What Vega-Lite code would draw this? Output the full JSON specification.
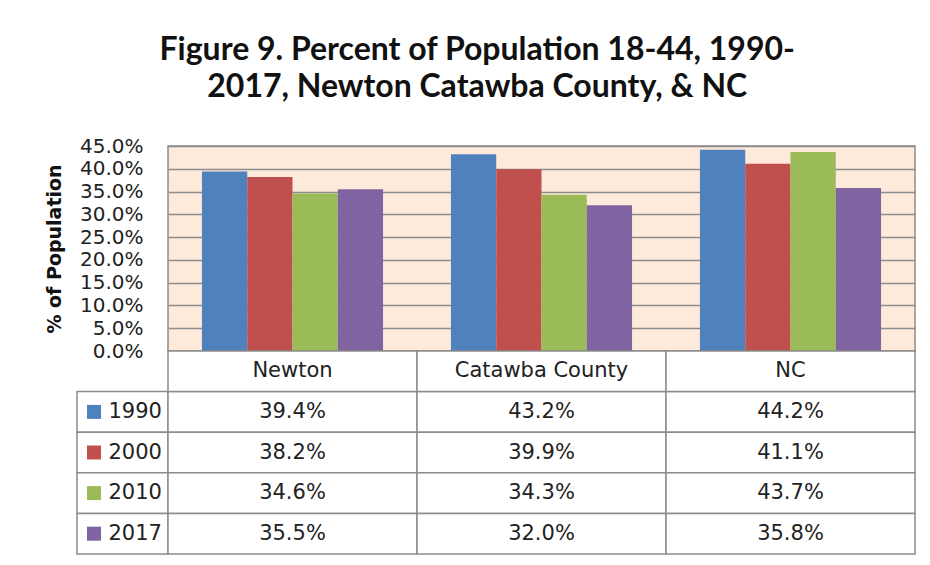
{
  "$schema": "https://vega.github.io/schema/vega-lite/v6.json",
  "background": "white",
  "padding": {"left": 44, "top": 34, "right": 5, "bottom": 5},
  "title": {
    "text": ["Figure 9. Percent of Population 18-44, 1990-", "2017, Newton Catawba County, & NC"],
    "font": "Lato",
    "fontSize": 32,
    "fontWeight": "bold",
    "color": "#111111",
    "anchor": "middle",
    "lineHeight": 37,
    "offset": 31,
    "dx": -3
  },
  "data": {
    "values": [
      {"county": "Newton", "year": "1990", "value": 0.394},
      {"county": "Newton", "year": "2000", "value": 0.382},
      {"county": "Newton", "year": "2010", "value": 0.346},
      {"county": "Newton", "year": "2017", "value": 0.355},
      {"county": "Catawba County", "year": "1990", "value": 0.432},
      {"county": "Catawba County", "year": "2000", "value": 0.399},
      {"county": "Catawba County", "year": "2010", "value": 0.343},
      {"county": "Catawba County", "year": "2017", "value": 0.320},
      {"county": "NC", "year": "1990", "value": 0.442},
      {"county": "NC", "year": "2000", "value": 0.411},
      {"county": "NC", "year": "2010", "value": 0.437},
      {"county": "NC", "year": "2017", "value": 0.358}
    ]
  },
  "columns": 2,
  "spacing": 0,
  "bounds": "flush",
  "concat": [
    {
      "width": 91,
      "height": 205,
      "data": {"values": [{"blank": ""}]},
      "mark": {"type": "text", "opacity": 0},
      "encoding": {"text": {"field": "blank"}},
      "view": {"stroke": null}
    },
    {
      "width": 747,
      "height": 205,
      "view": {"fill": "#FDEADA", "stroke": "#8c8c8c", "strokeWidth": 1.5},
      "mark": {"type": "bar"},
      "encoding": {
        "x": {
          "field": "county", "type": "nominal",
          "sort": ["Newton", "Catawba County", "NC"],
          "scale": {"paddingInner": 0, "paddingOuter": 0},
          "axis": null
        },
        "xOffset": {
          "field": "year", "type": "nominal",
          "sort": ["1990", "2000", "2010", "2017"],
          "scale": {"paddingInner": 0, "paddingOuter": 0.75}
        },
        "y": {
          "field": "value", "type": "quantitative",
          "scale": {"domain": [0, 0.45], "nice": false},
          "axis": {
            "format": ".1%",
            "values": [0, 0.05, 0.1, 0.15, 0.2, 0.25, 0.3, 0.35, 0.4, 0.45],
            "title": "% of Population",
            "titleFont": "DejaVu Sans",
            "titleFontSize": 19,
            "titleFontWeight": "bold",
            "titleColor": "#111111",
            "titlePadding": 15,
            "labelFont": "DejaVu Sans",
            "labelFontSize": 20,
            "labelColor": "#222222",
            "labelPadding": 25,
            "ticks": false,
            "domain": false,
            "grid": true,
            "gridColor": "#8c8c8c",
            "gridWidth": 1.5
          }
        },
        "color": {
          "field": "year", "type": "nominal",
          "scale": {"domain": ["1990", "2000", "2010", "2017"], "range": ["#4F81BD", "#C0504D", "#9BBB59", "#8064A2"]},
          "legend": null
        }
      }
    },
    {
      "width": 91,
      "height": 203,
      "view": {"stroke": null},
      "transform": [{"aggregate": [{"op": "count", "as": "n"}], "groupby": ["year"]}],
      "encoding": {
        "y": {
          "field": "year", "type": "nominal",
          "scale": {"domain": ["header", "1990", "2000", "2010", "2017"], "paddingInner": 0, "paddingOuter": 0},
          "axis": null
        }
      },
      "layer": [
        {"mark": {"type": "rect", "fill": "white", "stroke": "#8c8c8c", "strokeWidth": 1.5}},
        {
          "mark": {"type": "point", "shape": "square", "filled": true, "size": 196, "opacity": 1, "xOffset": -28.5},
          "encoding": {
            "color": {
              "field": "year", "type": "nominal",
              "scale": {"domain": ["1990", "2000", "2010", "2017"], "range": ["#4F81BD", "#C0504D", "#9BBB59", "#8064A2"]},
              "legend": null
            }
          }
        },
        {
          "mark": {"type": "text", "align": "left", "dx": -14, "font": "DejaVu Sans", "fontSize": 21, "color": "#222222"},
          "encoding": {"text": {"field": "year"}}
        }
      ]
    },
    {
      "width": 747,
      "height": 203,
      "view": {"stroke": null},
      "encoding": {
        "x": {
          "field": "county", "type": "nominal",
          "sort": ["Newton", "Catawba County", "NC"],
          "scale": {"paddingInner": 0, "paddingOuter": 0},
          "axis": null
        }
      },
      "layer": [
        {
          "mark": {"type": "rect", "fill": "white", "stroke": "#8c8c8c", "strokeWidth": 1.5},
          "encoding": {
            "y": {
              "field": "year", "type": "nominal",
              "scale": {"domain": ["header", "1990", "2000", "2010", "2017"], "paddingInner": 0, "paddingOuter": 0},
              "axis": null
            }
          }
        },
        {
          "transform": [{"aggregate": [{"op": "count", "as": "n"}], "groupby": ["county"]}],
          "mark": {"type": "rect", "fill": "white", "stroke": "#8c8c8c", "strokeWidth": 1.5},
          "encoding": {"y": {"datum": "header", "type": "nominal"}}
        },
        {
          "mark": {"type": "text", "font": "DejaVu Sans", "fontSize": 21, "color": "#222222"},
          "encoding": {
            "y": {"field": "year", "type": "nominal"},
            "text": {"field": "value", "type": "quantitative", "format": ".1%"}
          }
        },
        {
          "transform": [{"aggregate": [{"op": "count", "as": "n"}], "groupby": ["county"]}],
          "mark": {"type": "text", "font": "DejaVu Sans", "fontSize": 21, "color": "#222222"},
          "encoding": {
            "y": {"datum": "header", "type": "nominal"},
            "text": {"field": "county"}
          }
        }
      ]
    }
  ]
}
